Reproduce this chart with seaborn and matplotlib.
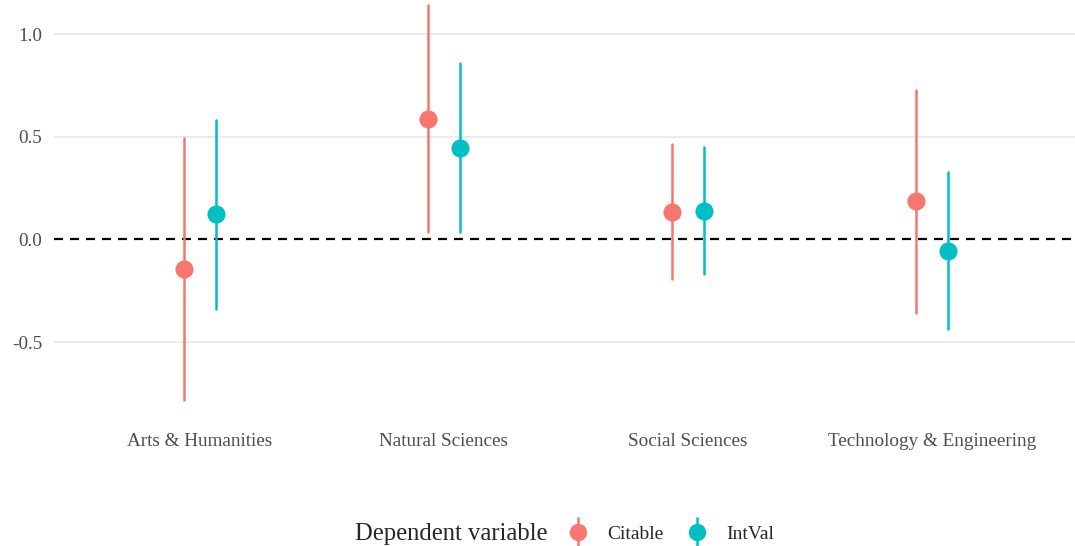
import numpy as np
import pandas as pd
import seaborn as sns
import matplotlib
matplotlib.use("Agg")
import matplotlib.pyplot as plt
from matplotlib.lines import Line2D

fields = ["Arts & Humanities", "Natural Sciences", "Social Sciences", "Technology & Engineering"]
dep_vars = ["Citable", "IntVal"]
citable_est = [-0.146, 0.586, 0.136, 0.185]
citable_low = [-0.783, 0.034, -0.192, -0.356]
citable_high = [0.492, 1.141, 0.464, 0.727]
intval_est = [0.122, 0.446, 0.141, -0.054]
intval_low = [-0.338, 0.037, -0.169, -0.438]
intval_high = [0.584, 0.857, 0.451, 0.329]
palette = {"Citable": "#F8766D", "IntVal": "#00BFC4"}

rows = []
for dv, est, lo, hi in [("Citable", citable_est, citable_low, citable_high),
                        ("IntVal", intval_est, intval_low, intval_high)]:
    for f, e, l, h in zip(fields, est, lo, hi):
        for v in (l, e, h):
            rows.append({"field": f, "dv": dv, "value": v})
df = pd.DataFrame(rows)

sns.set_theme(style="white")
plt.rcParams['font.family'] = ['Liberation Serif', 'DejaVu Serif']

W, H = 1075, 546
fig = plt.figure(figsize=(W / 100, H / 100), dpi=100)
ax_left_px, ax_right_px = 53.5, 1075
ax_top_px, ax_bot_px = 0, 420
ax = fig.add_axes([ax_left_px / W, 1 - ax_bot_px / H,
                   (ax_right_px - ax_left_px) / W, (ax_bot_px - ax_top_px) / H])

for y in [-0.5, 0.5, 1.0]:
    ax.axhline(y, color="#EBEBEB", lw=1.4, zorder=0)
ax.axhline(0, color="black", lw=1.6, ls=(0, (4, 3.2)), zorder=1)

sns.pointplot(data=df, x="field", y="value", hue="dv", order=fields, hue_order=dep_vars,
              palette=palette, estimator="median", errorbar=("pi", 100),
              dodge=0.128, linestyle="none", markers="o", markersize=11,
              err_kws={"linewidth": 1.8}, ax=ax, legend=False, zorder=3)

ax.set_xlim(-0.6, (1075 - 200) / 244)
ax.set_ylim(-0.879, 1.166)
ax.set_yticks([-0.5, 0.0, 0.5, 1.0])
ax.set_yticklabels(["-0.5", "0.0", "0.5", "1.0"])
ax.set_xlabel("")
ax.set_ylabel("")
for s in ax.spines.values():
    s.set_visible(False)
ax.tick_params(axis="both", length=0, labelsize=13.8, labelcolor="#4D4D4D")
ax.tick_params(axis="x", pad=9)
ax.tick_params(axis="y", pad=8.2)
ax.grid(False)

fig.text(355 / W, 1 - 534 / H, "Dependent variable", fontsize=17.7, ha="left", va="center")
handles = []
for dv in dep_vars:
    vl = Line2D([], [], color=palette[dv], marker="|", markersize=22, markeredgewidth=1.8, linestyle="none")
    pt = Line2D([], [], color=palette[dv], marker="o", markersize=11.5, linestyle="none")
    handles.append((vl, pt))
leg = fig.legend(handles, dep_vars, loc="center left", bbox_to_anchor=(566 / W, 1 - 534 / H),
                 ncol=2, frameon=False, fontsize=14, handlelength=1.2, handletextpad=0.9,
                 columnspacing=1.15, borderaxespad=0, borderpad=0)

fig.savefig("out.png", dpi=100, facecolor="white")
